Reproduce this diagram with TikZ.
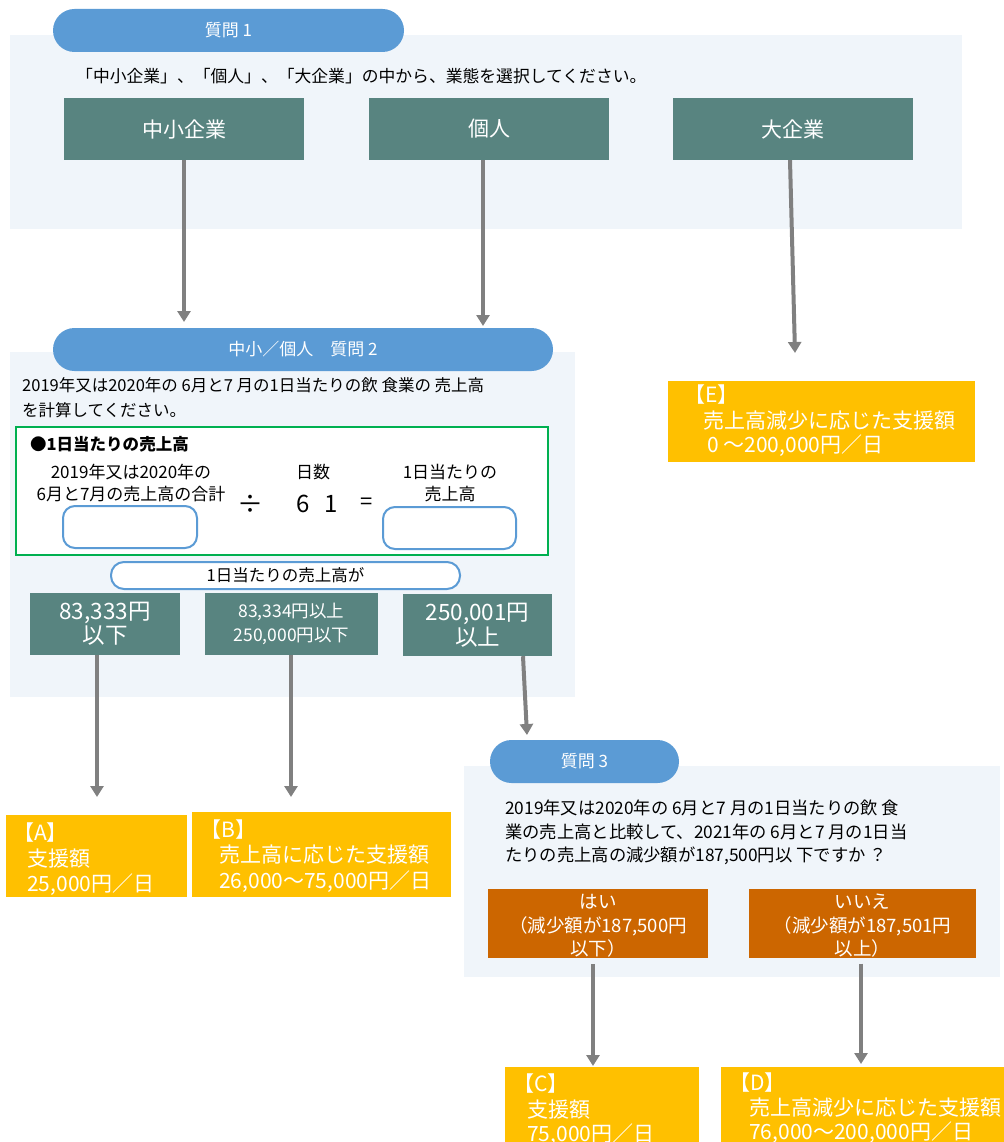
\documentclass[tikz,border=0pt]{standalone}
\usepackage{fontspec}
\setmainfont{Noto Sans CJK JP}
\usetikzlibrary{arrows.meta}
\definecolor{panelc}{HTML}{F0F5FA}
\definecolor{pillc}{HTML}{5B9BD5}
\definecolor{tealc}{HTML}{588480}
\definecolor{goldc}{HTML}{FFC000}
\definecolor{orangec}{HTML}{CC6600}
\definecolor{arrowc}{HTML}{808080}
\definecolor{greenc}{HTML}{00B050}
\newcommand\fsz[2]{\fontsize{#1pt}{#2pt}\selectfont}
\tikzset{
  panelbg/.style={fill=panelc},
  pill/.style={fill=pillc, rounded corners=21.5pt, minimum height=43pt, text=white, font=\fsz{17}{20}, inner sep=0pt},
  tealbox/.style={fill=tealc, text=white, minimum height=62pt, inner sep=0pt, align=center},
  goldbox/.style={fill=goldc, inner sep=0pt, anchor=north west},
  goldtxt/.style={text=white, font=\fsz{21}{25}, anchor=base west, inner sep=0pt},
  orangebox/.style={fill=orangec, minimum height=69pt, inner sep=0pt},
  orangetxt/.style={text=white, font=\fsz{18.5}{23.5}, align=center, inner sep=0pt},
  flow/.style={draw=arrowc, line width=4pt, -{Triangle[width=13pt,length=11pt]}},
  plain/.style={font=\fsz{16.5}{22}, inner sep=0pt},
  blankbox/.style={draw=pillc, line width=2pt, fill=white, rounded corners=12pt, inner sep=0pt}
}
\begin{document}
\begin{tikzpicture}[x=1pt,y=-1pt]
\useasboundingbox (0,0) rectangle (1003,1142);
% panels
\fill[panelbg] (10,35) rectangle (962,229);
\fill[panelbg] (10,352) rectangle (575,697);
\fill[panelbg] (464,766) rectangle (1000,977);

% question 1
\node[pill, minimum width=351pt] (p1) at (228.5,30.5) {質問 1};
\node[plain, anchor=west, font=\fsz{16.8}{22}] (q1t) at (76,76) {「中小企業」、「個人」、「大企業」の中から、業態を選択してください。};
\node[tealbox, minimum width=240pt, font=\fsz{21}{24}] (sme) at (184,129) {中小企業};
\node[tealbox, minimum width=240pt, font=\fsz{21}{24}] (ind) at (489,129) {個人};
\node[tealbox, minimum width=240pt, font=\fsz{21}{24}] (big) at (793,129) {大企業};

% question 2
\node[pill, minimum width=500pt] (p2) at (303,349.5) {中小／個人　質問 2};
\node[plain, anchor=west] (q2a) at (22,385) {2019年又は2020年の 6月と7 月の1日当たりの飲 食業の 売上高};
\node[plain, anchor=west] (q2b) at (22,410) {を計算してください。};
\node[draw=greenc, line width=2pt, fill=white, minimum width=532pt, minimum height=128pt, inner sep=0pt] (calc) at (282,491) {};
\node[plain, anchor=west, font=\fsz{16.5}{22}\bfseries] (calct) at (30,444) {●1日当たりの売上高};
\node[plain, align=center, font=\fsz{17}{22}] (sum) at (131,483) {2019年又は2020年の\\6月と7月の売上高の合計};
\node[plain, font=\fsz{26}{26}] (div) at (250,504) {÷};
\node[plain, font=\fsz{17}{22}] (days) at (313,472) {日数};
\node[plain, font=\fsz{24}{24}] (n61) at (317,504) {6\hspace{0.6em}1};
\node[plain, font=\fsz{22}{22}] (eq) at (367,504) {=};
\node[plain, align=center, font=\fsz{17}{22}] (res) at (450,483) {1日当たりの\\売上高};
\node[blankbox, minimum width=134pt, minimum height=42pt] (inL) at (130,527) {};
\node[blankbox, minimum width=133pt, minimum height=42pt] (inR) at (449.5,528) {};
\node[blankbox, rounded corners=13pt, minimum width=349pt, minimum height=27pt, font=\fsz{16.5}{18}] (perday) at (285.5,575.5) {1日当たりの売上高が};
\node[tealbox, minimum width=150pt, font=\fsz{22.5}{24}] (r1) at (105,624) {83,333円\\以下};
\node[tealbox, minimum width=173pt, font=\fsz{17.5}{24}] (r2) at (291.5,624) {83,334円以上\\250,000円以下};
\node[tealbox, minimum width=149pt, font=\fsz{22.5}{25}] (r3) at (477.5,625) {250,001円\\以上};

% question 3
\node[pill, minimum width=189pt] (p3) at (584.5,761.5) {質問 3};
\node[plain, anchor=west, font=\fsz{17.3}{22}] (q3a) at (505,808) {2019年又は2020年の 6月と7 月の1日当たりの飲 食};
\node[plain, anchor=west, font=\fsz{17.3}{22}] (q3b) at (505,832) {業の売上高と比較して、2021年の 6月と7 月の1日当};
\node[plain, anchor=west, font=\fsz{17.3}{22}] (q3c) at (505,856) {たりの売上高の減少額が187,500円以 下ですか ？};
\node[orangebox, minimum width=220pt] (yes) at (598,923.5) {};
\node[orangetxt] (yest) at (598,926) {はい\\（減少額が187,500円\\以下）};
\node[orangebox, minimum width=227pt] (no) at (862.5,923) {};
\node[orangetxt] (not) at (862.5,926) {いいえ\\（減少額が187,501円\\以上）};

% answers
\node[goldbox, minimum width=181pt, minimum height=82pt] (ansA) at (6,815) {};
\node[goldtxt] (ansA1) at (13,840) {【A】};
\node[goldtxt] (ansA2) at (27,866) {支援額};
\node[goldtxt] (ansA3) at (27,891) {25,000円／日};

\node[goldbox, minimum width=259pt, minimum height=85pt] (ansB) at (192,812) {};
\node[goldtxt] (ansB1) at (200,837) {【B】};
\node[goldtxt] (ansB2) at (219,862) {売上高に応じた支援額};
\node[goldtxt] (ansB3) at (219,888) {26,000～75,000円／日};

\node[goldbox, minimum width=307pt, minimum height=81pt] (ansE) at (668,381) {};
\node[goldtxt] (ansE1) at (684,402) {【E】};
\node[goldtxt] (ansE2) at (703,428) {売上高減少に応じた支援額};
\node[goldtxt] (ansE3) at (707,452) {0 ～200,000円／日};

\node[goldbox, minimum width=194pt, minimum height=90pt] (ansC) at (505,1067) {};
\node[goldtxt] (ansC1) at (513,1091) {【C】};
\node[goldtxt] (ansC2) at (527,1117) {支援額};
\node[goldtxt] (ansC3) at (527,1141) {75,000円／日};

\node[goldbox, minimum width=290pt, minimum height=90pt] (ansD) at (721,1067) {};
\node[goldtxt] (ansD1) at (729,1090) {【D】};
\node[goldtxt] (ansD2) at (749,1115) {売上高減少に応じた支援額};
\node[goldtxt] (ansD3) at (749,1139) {76,000～200,000円／日};

% arrow ends
\coordinate (e1) at (184,322);
\coordinate (e2) at (483,326);
\coordinate (e3) at (795,353);
\coordinate (e4) at (97,797);
\coordinate (e5) at (291,797);
\coordinate (e6) at (527,735);
\coordinate (e7) at (593,1066);
\coordinate (e8) at (861,1064);

\draw[flow] (sme.south) -- (e1);
\draw[flow] (ind.south -| e2) -- (e2);
\draw[flow] ([xshift=-3pt]big.south) -- (e3);
\draw[flow] (r1.south -| e4) -- (e4);
\draw[flow] (r2.south -| e5) -- (e5);
\draw[flow] ([xshift=-4pt]r3.south -| e6) -- (e6);
\draw[flow, shorten <=6pt] (yes.south -| e7) -- (e7);
\draw[flow, shorten <=6pt] (no.south -| e8) -- (e8);
\end{tikzpicture}
\end{document}
